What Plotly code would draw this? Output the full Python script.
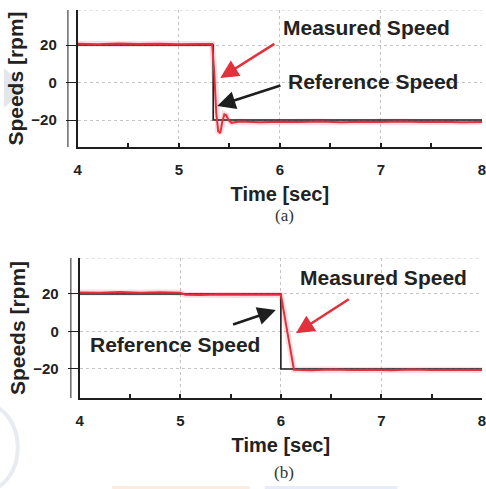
import plotly.graph_objects as go

# ---- data -------------------------------------------------------------
# (a) step command at t = 5.34 s
t_ref_a = [4.0, 5.34, 5.34, 8.0]
w_ref_a = [20, 20, -20, -20]
t_meas_a = [4.0, 4.2, 4.4, 4.6, 4.8, 5.0, 5.2, 5.33, 5.35, 5.37, 5.39, 5.41,
            5.43, 5.45, 5.47, 5.49, 5.52, 5.56, 5.6, 5.8, 6.0, 6.2, 6.4, 6.6,
            6.8, 7.0, 7.2, 7.4, 7.6, 7.8, 8.0]
w_meas_a = [20.7, 20.4, 20.8, 20.5, 20.7, 20.4, 20.6, 20.5, 6.0, -16.0, -26.0, -27.0,
            -21.0, -17.0, -17.5, -20.0, -21.5, -21.0, -20.8, -21.2, -20.9, -21.1, -20.8, -21.2,
            -20.9, -21.1, -20.8, -21.1, -20.9, -21.2, -21.0]

# (b) step command at t = 6.0 s
t_ref_b = [4.0, 6.0, 6.0, 8.0]
w_ref_b = [20, 20, -20, -20]
t_meas_b = [4.0, 4.2, 4.4, 4.6, 4.8, 5.0, 5.05, 5.2, 5.4, 5.6, 5.8, 6.0, 6.13,
            6.3, 6.5, 6.7, 6.9, 7.1, 7.3, 7.5, 7.7, 8.0]
w_meas_b = [20.8, 20.6, 21.0, 20.7, 20.9, 20.6, 19.6, 19.4, 19.7, 19.5, 19.6, 19.6, -20.4,
            -20.7, -20.3, -20.6, -20.4, -20.7, -20.3, -20.6, -20.4, -20.5]

x_ticks = [4, 5, 6, 7, 8]
y_ticks = [-20, 0, 20]

RED = "#e2303c"
BLACK = "#1e1e1e"
TXT = "#222222"
FONT = "Liberation Sans"

W, H = 486, 489
X_END = 8.0

fig = go.Figure()

# measured traces get a soft pink halo underneath
for xa, ya, t_ref, w_ref, t_m, w_m in [
    ("x", "y", t_ref_a, w_ref_a, t_meas_a, w_meas_a),
    ("x2", "y2", t_ref_b, w_ref_b, t_meas_b, w_meas_b),
]:
    fig.add_trace(go.Scatter(x=t_m, y=w_m, mode="lines", xaxis=xa, yaxis=ya,
                             line=dict(color="rgba(240,120,140,0.25)", width=6),
                             hoverinfo="skip", showlegend=False))
    fig.add_trace(go.Scatter(x=t_ref, y=w_ref, mode="lines", xaxis=xa, yaxis=ya,
                             line=dict(color=BLACK, width=1.6), name="Reference Speed",
                             showlegend=False))
    fig.add_trace(go.Scatter(x=t_m, y=w_m, mode="lines", xaxis=xa, yaxis=ya,
                             line=dict(color=RED, width=2), name="Measured Speed",
                             showlegend=False))

def px_x(p):
    return p / W

def px_y(p):
    return 1 - p / H

axis_common = dict(
    showline=True, linecolor=BLACK, linewidth=2,
    showgrid=True, gridcolor="#c4c4c4", griddash="dot", gridwidth=1,
    zeroline=False, ticks="outside", tickcolor=BLACK,
    tickfont=dict(family=FONT, size=15, color=TXT, weight="bold"),
)

def xaxis_cfg(x0):
    return dict(axis_common, domain=[px_x(x0), 1.0], range=[4, X_END],
                tickvals=x_ticks, ticks="inside", ticklen=4, tickwidth=2,
                ticklabelstandoff=8, ticklabeloverflow="allow",
                minor=dict(dtick=0.5, ticks="inside", ticklen=4, tickwidth=2,
                           tickcolor=BLACK, showgrid=False),
                title=dict(text="Time [sec]", standoff=10,
                           font=dict(family=FONT, size=20, color=TXT, weight="bold")))

def yaxis_cfg(top, bottom, rng, anchor):
    return dict(axis_common, domain=[px_y(bottom), px_y(top)], range=rng,
                tickvals=y_ticks, ticklen=10, tickwidth=1, anchor=anchor,
                ticklabelstandoff=6,
                title=dict(text="Speeds [rpm]", standoff=2,
                           font=dict(family=FONT, size=21, color=TXT, weight="bold")))

fig.update_layout(
    width=W, height=H, margin=dict(l=0, r=0, t=0, b=0),
    paper_bgcolor="white", plot_bgcolor="white",
    xaxis=dict(xaxis_cfg(75), anchor="y"),
    yaxis=yaxis_cfg(10, 147, [-34.4, 38.7], "x"),
    xaxis2=dict(xaxis_cfg(77), anchor="y2"),
    yaxis2=yaxis_cfg(258, 398, [-35.5, 39.2], "x2"),
)

shapes = []
# dotted top border of each panel and the thin bracket line left of the y axis
for xref, yref, top_v, bot_v, xline in [("x", "y", 38.7, -34.4, 65), ("x2", "y2", 39.2, -35.5, 68)]:
    shapes.append(dict(type="line", xref=xref, yref=yref, x0=4, x1=X_END, y0=top_v, y1=top_v,
                       line=dict(color="#c4c4c4", width=1, dash="dot")))
    shapes.append(dict(type="line", xref="paper", yref=yref, x0=px_x(xline), x1=px_x(xline),
                       y0=bot_v, y1=top_v, line=dict(color=BLACK, width=1)))
# faint background marks
shapes.append(dict(type="path", xref="paper", yref="paper",
                   path=f"M 0 {px_y(68)} L {px_x(22)} {px_y(88)} L 0 {px_y(108)} Z",
                   fillcolor="#e3e6ea", line=dict(width=0), layer="below"))
shapes.append(dict(type="circle", xref="paper", yref="paper",
                   x0=px_x(-50), x1=px_x(14), y0=px_y(490), y1=px_y(405),
                   fillcolor="rgba(0,0,0,0)", line=dict(color="#e8ecf1", width=4), layer="below"))
shapes.append(dict(type="rect", xref="paper", yref="paper",
                   x0=px_x(110), x1=px_x(250), y0=0, y1=px_y(486),
                   fillcolor="#fcece0", line=dict(width=0), layer="below"))
shapes.append(dict(type="rect", xref="paper", yref="paper",
                   x0=px_x(265), x1=px_x(400), y0=0, y1=px_y(486),
                   fillcolor="#e8ecf8", line=dict(width=0), layer="below"))
fig.update_layout(shapes=shapes)

def label(text, x, y, xref, yref):
    return dict(text=text, x=x, y=y, xref=xref, yref=yref, showarrow=False,
                xanchor="center", yanchor="middle",
                font=dict(family=FONT, size=21, color=TXT, weight="bold"))

def arrow(x, y, ax, ay, xref, yref, color):
    return dict(text="", x=x, y=y, ax=ax, ay=ay, xref=xref, yref=yref,
                axref=xref, ayref=yref, showarrow=True, arrowhead=2,
                arrowsize=1.4, arrowwidth=2.6, arrowcolor=color)

def caption(text, py):
    return dict(text=text, x=px_x(285), y=px_y(py), xref="paper", yref="paper",
                xanchor="center", yanchor="middle", showarrow=False,
                font=dict(family="Liberation Serif", size=17, color="#333"))

annotations = [
    label("Measured Speed", 6.86, 29.1, "x", "y"),
    label("Reference Speed", 6.92, 0.3, "x", "y"),
    arrow(5.41, 2.4, 5.96, 21.1, "x", "y", RED),
    arrow(5.38, -12.5, 6.02, -1.3, "x", "y", BLACK),
    label("Measured Speed", 7.02, 28.9, "x2", "y2"),
    label("Reference Speed", 4.95, -6.7, "x2", "y2"),
    arrow(6.15, -1.0, 6.69, 17.7, "x2", "y2", RED),
    arrow(5.95, 11.5, 5.51, 3.4, "x2", "y2", BLACK),
    caption("(a)", 215),
    caption("(b)", 472),
]
fig.update_layout(annotations=annotations)

fig.write_html("out.html")
